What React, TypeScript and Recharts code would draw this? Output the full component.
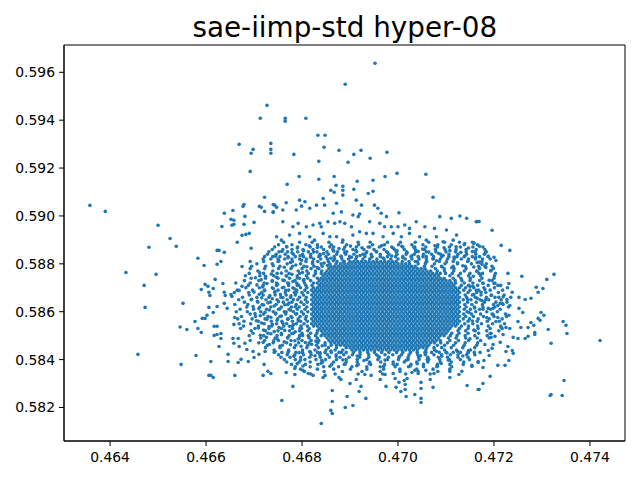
import React from 'react';
import { ScatterChart, Scatter, XAxis, YAxis, ReferenceArea } from 'recharts';

const title = 'sae-iimp-std hyper-08';
const xTicks = [0.464, 0.466, 0.468, 0.47, 0.472, 0.474];
const yTicks = [0.582, 0.584, 0.586, 0.588, 0.59, 0.592, 0.594, 0.596];
const xDomain: [number, number] = [0.46304, 0.47473];
const yDomain: [number, number] = [0.5806, 0.59714];

// points read one by one from the sparse outskirts
const topPoints: [number, number][] = [
  [0.46952, 0.59638], [0.4689, 0.5955], [0.46727, 0.59462], [0.46713, 0.59408], [0.46765, 0.59408], [0.46765, 0.59396],
  [0.46808, 0.59408], [0.46833, 0.59337], [0.46848, 0.59337], [0.46669, 0.59299], [0.46735, 0.59303], [0.46698, 0.59278],
  [0.46694, 0.59262], [0.46735, 0.59278], [0.46735, 0.59262], [0.46846, 0.59287], [0.46877, 0.59274], [0.46908, 0.59257],
  [0.46923, 0.59274], [0.46977, 0.59266], [0.46783, 0.59257], [0.46835, 0.59228], [0.46896, 0.59224], [0.46942, 0.59241],
  [0.46692, 0.59186], [0.46794, 0.59165], [0.46769, 0.59132], [0.46835, 0.59153], [0.46867, 0.59165], [0.46871, 0.59128],
  [0.46885, 0.59124], [0.46885, 0.59107], [0.4686, 0.59107], [0.46867, 0.59099], [0.46915, 0.59145], [0.46908, 0.59111],
  [0.46948, 0.59149], [0.46973, 0.59165], [0.46998, 0.59178], [0.47058, 0.59174], [0.46938, 0.59094], [0.46948, 0.59103],
];

const upperPoints: [number, number][] = [
  [0.46885, 0.59087], [0.47073, 0.59078], [0.46743, 0.59045], [0.4674, 0.59017], [0.4676, 0.59025], [0.46767, 0.59055],
  [0.46795, 0.59066], [0.46806, 0.59059], [0.46788, 0.59025], [0.46799, 0.59041], [0.46816, 0.59032], [0.4683, 0.59045],
  [0.46844, 0.59073], [0.46847, 0.59045], [0.46872, 0.59053], [0.46882, 0.59017], [0.46865, 0.59011], [0.46913, 0.59066],
  [0.46924, 0.59045], [0.46906, 0.59004], [0.46917, 0.58997], [0.4692, 0.59008], [0.46951, 0.59045], [0.46958, 0.59032],
  [0.46965, 0.59011], [0.46976, 0.58997], [0.47002, 0.59013], [0.47087, 0.58997], [0.47111, 0.5899], [0.47129, 0.59],
  [0.47143, 0.5899], [0.47163, 0.58976],
  [0.4676, 0.58976], [0.46781, 0.58955], [0.46792, 0.58969], [0.46809, 0.58955], [0.46823, 0.58962], [0.46837, 0.58969],
  [0.4684, 0.58955], [0.46854, 0.58976], [0.46868, 0.58969], [0.46879, 0.58976], [0.46889, 0.58969], [0.46903, 0.58955],
  [0.46941, 0.58976], [0.46962, 0.58969], [0.46972, 0.58955], [0.46986, 0.58955], [0.47, 0.58955], [0.47014, 0.58962],
  [0.47024, 0.58948], [0.47038, 0.58976], [0.47056, 0.58955], [0.47076, 0.58948], [0.47101, 0.58941], [0.47122, 0.5892],
  [0.46747, 0.58913], [0.46757, 0.58899], [0.46774, 0.5892], [0.46795, 0.58927], [0.46816, 0.58913], [0.46826, 0.58899],
  [0.46844, 0.58927], [0.46858, 0.58913], [0.46872, 0.58913], [0.46885, 0.58899], [0.46906, 0.5892], [0.4692, 0.58934],
  [0.46934, 0.58927], [0.46948, 0.58927], [0.46969, 0.58913], [0.4699, 0.58927], [0.47007, 0.58913], [0.47024, 0.58927],
  [0.47045, 0.58913], [0.47059, 0.58899], [0.4708, 0.58913], [0.47094, 0.58892], [0.47115, 0.58899], [0.47139, 0.58885],
  [0.47158, 0.58888],
];

const leftPoints: [number, number][] = [
  [0.46358, 0.59044], [0.4639, 0.59019], [0.46433, 0.58764], [0.465, 0.58961], [0.46525, 0.58906], [0.46538, 0.58873],
  [0.46481, 0.58869], [0.46496, 0.58756], [0.46471, 0.5871], [0.46473, 0.58618], [0.46458, 0.58422], [0.46552, 0.58635],
  [0.46546, 0.58536], [0.4656, 0.58526], [0.46548, 0.5838], [0.46579, 0.58417], [0.46583, 0.58823], [0.46596, 0.58793],
  [0.46623, 0.58856], [0.46627, 0.58856], [0.46638, 0.58848], [0.46631, 0.5881], [0.46623, 0.58798], [0.46638, 0.59011],
  [0.46633, 0.58956], [0.46656, 0.59023], [0.46652, 0.58986], [0.46658, 0.58982], [0.46654, 0.58961], [0.46658, 0.58965],
  [0.46679, 0.59048], [0.46677, 0.5904], [0.46681, 0.58998], [0.46679, 0.58965], [0.467, 0.58973], [0.46675, 0.58919],
  [0.46683, 0.58923], [0.4669, 0.58927], [0.46665, 0.5889], [0.46711, 0.5904], [0.46715, 0.59036], [0.46722, 0.59078],
  [0.46722, 0.59019], [0.4674, 0.59048], [0.46747, 0.59036], [0.4674, 0.59015], [0.46694, 0.58865], [0.46675, 0.58789],
  [0.46619, 0.58735], [0.46635, 0.58718], [0.46598, 0.58714], [0.46604, 0.58706], [0.4659, 0.58693], [0.46615, 0.58697],
  [0.46606, 0.58681], [0.46608, 0.58668], [0.46638, 0.58681], [0.4664, 0.58668], [0.46652, 0.58672], [0.46654, 0.58664],
  [0.46669, 0.58689], [0.46675, 0.58706], [0.46606, 0.58618], [0.46623, 0.58622], [0.46638, 0.58635], [0.46644, 0.58614],
  [0.46615, 0.58597], [0.46602, 0.58585], [0.46598, 0.58572], [0.46592, 0.58572], [0.46577, 0.58559], [0.46583, 0.5853],
  [0.4659, 0.58513], [0.46617, 0.58539], [0.46623, 0.58539], [0.46617, 0.58501], [0.46623, 0.58505], [0.46631, 0.58509],
  [0.46631, 0.58488], [0.46627, 0.58455], [0.4661, 0.58392], [0.46606, 0.58334], [0.4661, 0.58334], [0.46615, 0.58325],
  [0.46646, 0.58422], [0.46646, 0.58392], [0.4666, 0.58334], [0.46667, 0.58388], [0.46673, 0.58401], [0.46688, 0.58392],
  [0.4666, 0.58576], [0.46658, 0.58547], [0.46656, 0.58488], [0.46667, 0.58488], [0.46658, 0.58468], [0.46669, 0.58455],
  [0.46681, 0.58468], [0.46685, 0.58442], [0.46698, 0.58434], [0.467, 0.58409], [0.4671, 0.58422], [0.46721, 0.5838],
  [0.46719, 0.58334], [0.46729, 0.58351], [0.46735, 0.58342], [0.46723, 0.58434], [0.46744, 0.58434],
];

const rightPoints: [number, number][] = [
  [0.47165, 0.58977], [0.47169, 0.58977], [0.47196, 0.5894], [0.47158, 0.58885], [0.47215, 0.58877], [0.47233, 0.58856],
  [0.472, 0.58827], [0.47204, 0.58814], [0.47165, 0.58806], [0.47175, 0.58798], [0.47183, 0.58785], [0.47194, 0.58773],
  [0.47165, 0.58768], [0.47169, 0.5876], [0.47229, 0.5876], [0.47258, 0.58748], [0.47325, 0.58756], [0.4731, 0.58735],
  [0.47231, 0.58718], [0.4719, 0.58731], [0.472, 0.58718], [0.47208, 0.5871], [0.47177, 0.58718], [0.47156, 0.58706],
  [0.47288, 0.58702], [0.47302, 0.58697], [0.47292, 0.58681], [0.47238, 0.58681], [0.47252, 0.5866], [0.47265, 0.58651],
  [0.47277, 0.58656], [0.47219, 0.58662], [0.47227, 0.58651], [0.47217, 0.58635], [0.47233, 0.58626], [0.47252, 0.58614],
  [0.4726, 0.58597], [0.47298, 0.58597], [0.47304, 0.58585], [0.47292, 0.58572], [0.47296, 0.58564], [0.47277, 0.58555],
  [0.47283, 0.58543], [0.47344, 0.58559], [0.4735, 0.58543], [0.4725, 0.58559], [0.47231, 0.58585], [0.47256, 0.58534],
  [0.47271, 0.58534], [0.47313, 0.58526], [0.47352, 0.58509], [0.47285, 0.58513], [0.47285, 0.58505], [0.4724, 0.58493],
  [0.4725, 0.58488], [0.47265, 0.58488], [0.47271, 0.58497], [0.47421, 0.5848], [0.47319, 0.58468], [0.47229, 0.58455],
  [0.47238, 0.58438], [0.4724, 0.58426], [0.47225, 0.58434], [0.47231, 0.58396], [0.47208, 0.58376], [0.47223, 0.58376],
  [0.47192, 0.5833], [0.47177, 0.583], [0.47169, 0.58275], [0.47346, 0.58313], [0.47317, 0.5825], [0.47319, 0.58254],
  [0.47342, 0.5825], [0.47177, 0.58367], [0.47167, 0.58388], [0.47154, 0.58376], [0.47179, 0.58396], [0.4719, 0.58417],
  [0.47188, 0.58438], [0.47196, 0.58447], [0.47171, 0.5843], [0.47181, 0.58463], [0.47198, 0.58463], [0.47213, 0.58472],
  [0.47219, 0.58505], [0.47217, 0.5853], [0.47202, 0.58497], [0.47194, 0.58493], [0.47192, 0.58509], [0.47225, 0.58534],
  [0.47233, 0.5853], [0.47204, 0.58559], [0.47215, 0.58534], [0.47185, 0.58576], [0.47198, 0.58589], [0.47208, 0.58576],
  [0.47177, 0.5861], [0.47188, 0.58614], [0.47198, 0.58614], [0.47208, 0.58626], [0.47213, 0.58635], [0.47165, 0.58656],
  [0.47175, 0.58647], [0.47183, 0.58651], [0.47194, 0.58668], [0.47202, 0.5866], [0.47163, 0.58689], [0.47173, 0.58681],
  [0.47181, 0.58693],
];

const bottomPoints: [number, number][] = [
  [0.46758, 0.58229], [0.46781, 0.58288], [0.46767, 0.58346], [0.46785, 0.58363], [0.46785, 0.58338], [0.46802, 0.58355],
  [0.46813, 0.58342], [0.46823, 0.58334], [0.4684, 0.58133], [0.46844, 0.58325], [0.46848, 0.58334], [0.46863, 0.58271],
  [0.46863, 0.58225], [0.4686, 0.58188], [0.46863, 0.58175], [0.46877, 0.58325], [0.46881, 0.58317], [0.46894, 0.58246],
  [0.4689, 0.582], [0.46906, 0.58208], [0.469, 0.583], [0.46919, 0.58267], [0.46923, 0.58288], [0.46933, 0.58238],
  [0.46913, 0.58317], [0.46931, 0.58338], [0.46944, 0.58334], [0.46963, 0.58317], [0.46975, 0.58288], [0.46973, 0.58338],
  [0.4699, 0.58342], [0.46994, 0.58321], [0.46996, 0.58284], [0.47006, 0.58267], [0.47015, 0.58275], [0.47015, 0.58296],
  [0.47017, 0.58246], [0.47002, 0.58305], [0.47013, 0.58313], [0.47019, 0.58321], [0.47035, 0.58254], [0.47048, 0.58305],
  [0.47048, 0.58279], [0.47048, 0.58238], [0.47048, 0.58221], [0.47029, 0.58346], [0.47042, 0.58342], [0.47035, 0.58355],
  [0.47067, 0.58317], [0.47073, 0.58284], [0.47058, 0.58355], [0.47075, 0.58342], [0.47108, 0.58325], [0.47108, 0.58351],
  [0.47127, 0.58338], [0.47133, 0.58351], [0.47144, 0.58292], [0.47167, 0.58275], [0.47154, 0.58371], [0.47167, 0.58392],
];

// estimated points in the busy band that rings the solid core
const ringPoints: [number, number][] = [
  [0.46768, 0.58872], [0.4679, 0.58866], [0.46815, 0.58875], [0.46832, 0.58868], [0.46858, 0.58871], [0.46877, 0.58864],
  [0.46901, 0.58874], [0.46925, 0.58867], [0.46941, 0.5887], [0.46966, 0.58876], [0.4699, 0.58865], [0.47008, 0.58873],
  [0.47033, 0.58869], [0.47051, 0.58862], [0.47077, 0.58875], [0.47096, 0.58867], [0.47121, 0.58871], [0.47147, 0.58866],
  [0.4717, 0.58873],
  [0.46758, 0.58852], [0.46779, 0.58846], [0.46803, 0.58855], [0.46824, 0.58849], [0.46845, 0.58843], [0.46866, 0.58853],
  [0.46889, 0.58847], [0.46912, 0.58856], [0.46933, 0.58844], [0.46955, 0.58851], [0.46978, 0.58848], [0.46998, 0.58854],
  [0.47019, 0.58845], [0.47042, 0.58852], [0.47064, 0.58849], [0.47085, 0.58843], [0.47108, 0.58855], [0.47131, 0.58848],
  [0.47155, 0.58851], [0.47182, 0.58846],
  [0.46745, 0.58832], [0.46771, 0.58825], [0.46796, 0.58834], [0.46818, 0.58828], [0.46838, 0.58836], [0.4686, 0.58823],
  [0.46881, 0.58831], [0.46903, 0.58827], [0.46921, 0.58835], [0.46945, 0.58829], [0.46969, 0.58824], [0.46987, 0.58833],
  [0.4701, 0.58826], [0.47029, 0.58834], [0.47052, 0.5883], [0.47073, 0.58822], [0.47094, 0.58835], [0.47117, 0.58828],
  [0.47139, 0.58832], [0.47162, 0.58826], [0.47188, 0.58831],
  [0.46752, 0.58812], [0.46776, 0.58806], [0.46799, 0.58815], [0.46822, 0.58808], [0.46846, 0.58803], [0.46865, 0.58813],
  [0.46886, 0.58809], [0.47036, 0.5881], [0.47058, 0.58806], [0.4708, 0.58813], [0.47101, 0.58808], [0.47124, 0.58804],
  [0.47146, 0.58812], [0.4717, 0.58807],
  [0.4674, 0.58792], [0.46763, 0.58786], [0.46787, 0.58795], [0.4681, 0.58788], [0.46832, 0.58784], [0.46853, 0.58793],
  [0.47091, 0.58788], [0.47112, 0.58784], [0.47135, 0.58792], [0.47158, 0.58787], [0.47181, 0.5879],
  [0.46712, 0.58763], [0.46736, 0.58757], [0.46757, 0.58761], [0.46779, 0.58756], [0.46801, 0.58764],
  [0.46703, 0.58742], [0.46724, 0.58748], [0.46747, 0.58744], [0.46768, 0.58749], [0.4679, 0.58741],
  [0.46715, 0.58733], [0.46738, 0.58727], [0.4676, 0.58732], [0.46781, 0.58726], [0.46804, 0.58734],
  [0.46706, 0.58712], [0.46727, 0.58718], [0.46749, 0.58714], [0.46772, 0.58719], [0.46793, 0.58711],
  [0.46718, 0.58703], [0.4674, 0.58697], [0.46762, 0.58702], [0.46784, 0.58696],
  [0.467, 0.58682], [0.46722, 0.58688], [0.46744, 0.58684], [0.46766, 0.58689], [0.46788, 0.58681],
  [0.46711, 0.58673], [0.46733, 0.58667], [0.46755, 0.58672], [0.46777, 0.58666],
  [0.46695, 0.58652], [0.46716, 0.58658], [0.46738, 0.58654], [0.4676, 0.58659], [0.46782, 0.58651],
  [0.46707, 0.58643], [0.46729, 0.58637], [0.46751, 0.58642], [0.46773, 0.58636],
  [0.46698, 0.58622], [0.4672, 0.58628], [0.46742, 0.58624], [0.46764, 0.58629], [0.46786, 0.58621],
  [0.4671, 0.58613], [0.46732, 0.58607], [0.46754, 0.58612], [0.46776, 0.58606],
  [0.46702, 0.58592], [0.46723, 0.58598], [0.46745, 0.58594], [0.46767, 0.58599], [0.46789, 0.58591],
  [0.46713, 0.58583], [0.46735, 0.58577], [0.46757, 0.58582], [0.46779, 0.58576],
  [0.46705, 0.58562], [0.46727, 0.58568], [0.46748, 0.58564], [0.4677, 0.58569], [0.46792, 0.58561],
  [0.46716, 0.58553], [0.46738, 0.58547], [0.4676, 0.58552], [0.46782, 0.58546],
  [0.46709, 0.58532], [0.46731, 0.58538], [0.46752, 0.58534], [0.46774, 0.58539], [0.46796, 0.58531],
  [0.4672, 0.58523], [0.46742, 0.58517], [0.46764, 0.58522], [0.46786, 0.58516],
  [0.46713, 0.58502], [0.46735, 0.58508], [0.46757, 0.58504], [0.46779, 0.58509], [0.46801, 0.58501],
  [0.46726, 0.58493], [0.46748, 0.58487], [0.4677, 0.58492], [0.46792, 0.58486], [0.46814, 0.58494],
  [0.46719, 0.58472], [0.46741, 0.58478], [0.46763, 0.58474], [0.46785, 0.58479], [0.46807, 0.58471], [0.46829, 0.58477],
  [0.46732, 0.58463], [0.46754, 0.58457], [0.46776, 0.58462], [0.46798, 0.58456], [0.4682, 0.58464], [0.46842, 0.58458],
  [0.47157, 0.58748], [0.4715, 0.58706], [0.47158, 0.58672], [0.47145, 0.58651], [0.4716, 0.58616], [0.47148, 0.58597],
  [0.47155, 0.58561], [0.47158, 0.58523], [0.4715, 0.58487], [0.47147, 0.58438],
  [0.46772, 0.58435], [0.46794, 0.58429], [0.46816, 0.58434], [0.46838, 0.58428], [0.4686, 0.58436], [0.46882, 0.5843],
  [0.47058, 0.58431], [0.4708, 0.58435], [0.47102, 0.58428], [0.47124, 0.58434], [0.47146, 0.58429],
  [0.46783, 0.58414], [0.46827, 0.58416], [0.46871, 0.58413], [0.46915, 0.58415], [0.46959, 0.58414], [0.47003, 0.58413],
  [0.47047, 0.58416], [0.47091, 0.58414], [0.47135, 0.58415],
  [0.46797, 0.58398], [0.46841, 0.58397], [0.46885, 0.58399], [0.46929, 0.58396], [0.46973, 0.58398], [0.47017, 0.58397],
  [0.47061, 0.584], [0.47105, 0.58397],
  [0.4679, 0.58383], [0.4684, 0.58385], [0.4689, 0.58382], [0.4694, 0.58384], [0.4699, 0.58381], [0.4704, 0.58383],
  [0.4709, 0.58384],
  [0.46802, 0.58373], [0.46858, 0.58372], [0.46914, 0.58374], [0.4697, 0.58371], [0.47026, 0.58373], [0.47082, 0.58372],
];

// busy band estimated row by row: across the top, the two flanks of the core, then across the bottom
const ringRowY = [
  0.5889, 0.5888, 0.5887, 0.5886, 0.5885, 0.5884, 0.5883, 0.5882,
  0.5881, 0.588, 0.5879, 0.5878, 0.5877, 0.5876, 0.5875, 0.5874, 0.5873, 0.5872, 0.5871, 0.587, 0.5869, 0.5868, 0.5867,
  0.5866, 0.5865, 0.5864, 0.5863, 0.5862, 0.5861, 0.586, 0.5859, 0.5858, 0.5857, 0.5856, 0.5855, 0.5854, 0.5853, 0.5852,
  0.5851, 0.585, 0.5849, 0.5848, 0.5847, 0.5846, 0.5845, 0.5844,
  0.5843, 0.5842, 0.5841, 0.584, 0.5839, 0.5838, 0.5837, 0.5836, 0.5835, 0.5834,
];

const ringRowX: number[][] = [
  [0.46762, 0.46795, 0.46821, 0.46856, 0.46884, 0.46917, 0.46942, 0.46978, 0.47005, 0.47036, 0.47064, 0.47097, 0.47128, 0.47155],
  [0.46751, 0.46779, 0.46808, 0.46832, 0.46861, 0.46893, 0.46918, 0.46947, 0.46972, 0.47001, 0.47029, 0.47052, 0.47083, 0.47111, 0.47138, 0.47166],
  [0.46743, 0.46768, 0.46791, 0.46817, 0.4684, 0.46866, 0.46889, 0.46913, 0.46938, 0.46961, 0.46987, 0.4701, 0.47035, 0.47058, 0.47082, 0.47107, 0.4713, 0.47156, 0.47177],
  [0.46738, 0.4676, 0.46779, 0.46802, 0.46823, 0.46845, 0.46864, 0.46887, 0.46906, 0.46929, 0.4695, 0.46971, 0.46993, 0.47013, 0.47036, 0.47055, 0.47078, 0.47098, 0.47121, 0.47142, 0.47163, 0.47181],
  [0.46731, 0.46752, 0.4677, 0.46791, 0.46813, 0.46831, 0.46852, 0.46874, 0.46893, 0.46914, 0.46935, 0.46955, 0.46976, 0.46996, 0.47018, 0.47037, 0.47059, 0.47079, 0.471, 0.4712, 0.47142, 0.47161, 0.47184],
  [0.46728, 0.46746, 0.46765, 0.46782, 0.46801, 0.46818, 0.46837, 0.46855, 0.46872, 0.46891, 0.46908, 0.46927, 0.46944, 0.46963, 0.46981, 0.46998, 0.47017, 0.47034, 0.47053, 0.4707, 0.47089, 0.47106, 0.47125, 0.47143, 0.47162, 0.4718],
  [0.46722, 0.46739, 0.46754, 0.46771, 0.46786, 0.46803, 0.46818, 0.46835, 0.4685, 0.46867, 0.46882, 0.46899, 0.46914, 0.46931, 0.46946, 0.46963, 0.46978, 0.46995, 0.4701, 0.47027, 0.47042, 0.47059, 0.47074, 0.47091, 0.47106, 0.47123, 0.47138, 0.47155, 0.4717, 0.47188],
  [0.46719, 0.46735, 0.4675, 0.46764, 0.46779, 0.46795, 0.46809, 0.46824, 0.46839, 0.46853, 0.46868, 0.46883, 0.46897, 0.46912, 0.46927, 0.46941, 0.46956, 0.46971, 0.46985, 0.47, 0.47015, 0.47029, 0.47044, 0.47059, 0.47073, 0.47088, 0.47103, 0.47117, 0.47132, 0.47147, 0.47161, 0.47176, 0.47192],
  [0.46888, 0.46873, 0.46855, 0.46833, 0.46808, 0.4678, 0.4675, 0.4672, 0.46692, 0.47009, 0.47023, 0.4704, 0.4706, 0.47086, 0.47115, 0.47145, 0.47175],
  [0.46871, 0.46858, 0.4684, 0.46822, 0.46797, 0.46769, 0.46738, 0.46706, 0.47042, 0.47057, 0.47076, 0.47098, 0.47124, 0.47153, 0.47184],
  [0.46842, 0.46825, 0.46804, 0.4678, 0.46754, 0.46724, 0.46695, 0.47055, 0.47071, 0.47091, 0.47115, 0.4714, 0.47168, 0.47196],
  [0.46835, 0.46819, 0.468, 0.46777, 0.46751, 0.46722, 0.46692, 0.47078, 0.47096, 0.47117, 0.47142, 0.4717, 0.47199],
  [0.46841, 0.46828, 0.4681, 0.46792, 0.46767, 0.46739, 0.46708, 0.47082, 0.47097, 0.47116, 0.47138, 0.47164, 0.47193],
  [0.46828, 0.46813, 0.46795, 0.46773, 0.46748, 0.4672, 0.4669, 0.47099, 0.47113, 0.4713, 0.4715, 0.47176, 0.47203],
  [0.46825, 0.46809, 0.4679, 0.46767, 0.46741, 0.46712, 0.46682, 0.47108, 0.47126, 0.47147, 0.47172, 0.47201],
  [0.46812, 0.46795, 0.46774, 0.4675, 0.46724, 0.46694, 0.47115, 0.47131, 0.47151, 0.47175, 0.472],
  [0.46818, 0.46803, 0.46785, 0.46763, 0.46738, 0.4671, 0.4668, 0.47119, 0.47133, 0.4715, 0.4717, 0.47196],
  [0.46805, 0.46789, 0.4677, 0.46747, 0.46721, 0.46692, 0.46662, 0.47138, 0.47156, 0.47177, 0.47202],
  [0.46821, 0.46808, 0.4679, 0.46772, 0.46747, 0.46719, 0.46688, 0.47132, 0.47147, 0.47166, 0.47188, 0.47214],
  [0.4681, 0.46797, 0.46781, 0.46759, 0.46738, 0.46711, 0.46683, 0.47141, 0.47158, 0.47179, 0.47201, 0.47228],
  [0.46806, 0.46789, 0.46772, 0.4675, 0.46722, 0.46697, 0.46665, 0.47137, 0.4715, 0.47168, 0.47192, 0.47218],
  [0.46812, 0.468, 0.46784, 0.46765, 0.46743, 0.46716, 0.46689, 0.46659, 0.47146, 0.47164, 0.47183, 0.47209],
  [0.46803, 0.46786, 0.46767, 0.46744, 0.46719, 0.4669, 0.4714, 0.47155, 0.47173, 0.47195, 0.47221],
  [0.46809, 0.46795, 0.46776, 0.46756, 0.46731, 0.46706, 0.46676, 0.47143, 0.47161, 0.47184, 0.4721, 0.47235],
  [0.46807, 0.46791, 0.46769, 0.46748, 0.46725, 0.46694, 0.46668, 0.47136, 0.47152, 0.47171, 0.47189, 0.47215],
  [0.46811, 0.46798, 0.46779, 0.46761, 0.46734, 0.46708, 0.4668, 0.47145, 0.47163, 0.4718, 0.47204, 0.47227],
  [0.46804, 0.46788, 0.4677, 0.46746, 0.46717, 0.46687, 0.4666, 0.47139, 0.47154, 0.47176, 0.47199, 0.47219],
  [0.4681, 0.46794, 0.46778, 0.46757, 0.46735, 0.46712, 0.46685, 0.47142, 0.47159, 0.47177, 0.47202, 0.4723],
  [0.46806, 0.4679, 0.46773, 0.46751, 0.46726, 0.46699, 0.46671, 0.47138, 0.47151, 0.4717, 0.47193, 0.47213],
  [0.46812, 0.46799, 0.46782, 0.46763, 0.4674, 0.46714, 0.46686, 0.46663, 0.47144, 0.47162, 0.47185, 0.47207],
  [0.46803, 0.46787, 0.46766, 0.46745, 0.4672, 0.46692, 0.47137, 0.47153, 0.47172, 0.47196, 0.47224],
  [0.46809, 0.46796, 0.46777, 0.46754, 0.46729, 0.46703, 0.46674, 0.47141, 0.47157, 0.47178, 0.472, 0.47226],
  [0.46807, 0.46792, 0.46771, 0.46749, 0.46723, 0.46696, 0.46666, 0.47136, 0.47149, 0.47167, 0.4719, 0.47217],
  [0.46811, 0.46797, 0.4678, 0.46758, 0.46736, 0.46709, 0.46679, 0.47146, 0.47165, 0.47186, 0.47211],
  [0.46804, 0.46788, 0.46768, 0.46747, 0.46721, 0.46693, 0.46669, 0.47139, 0.47156, 0.47174, 0.47197, 0.47222],
  [0.46811, 0.46798, 0.4678, 0.46762, 0.46737, 0.46709, 0.46678, 0.47132, 0.47147, 0.47166, 0.47188, 0.47214],
  [0.46815, 0.46799, 0.4678, 0.46757, 0.46731, 0.46702, 0.46672, 0.47128, 0.47146, 0.47167, 0.47192],
  [0.46812, 0.46795, 0.46774, 0.4675, 0.46724, 0.46694, 0.47125, 0.47141, 0.47161, 0.47185, 0.4721],
  [0.46831, 0.46818, 0.468, 0.46782, 0.46757, 0.46729, 0.46698, 0.47112, 0.47127, 0.47146, 0.47168, 0.47194],
  [0.46828, 0.46813, 0.46795, 0.46773, 0.46748, 0.4672, 0.4669, 0.47109, 0.47123, 0.4714, 0.4716, 0.47186],
  [0.46832, 0.46815, 0.46794, 0.4677, 0.46744, 0.46714, 0.47105, 0.47121, 0.47141, 0.47165, 0.4719],
  [0.46835, 0.46819, 0.468, 0.46777, 0.46751, 0.46722, 0.46692, 0.47108, 0.47126, 0.47147, 0.47172],
  [0.46848, 0.46833, 0.46815, 0.46793, 0.46768, 0.4674, 0.4671, 0.47089, 0.47103, 0.4712, 0.4714, 0.47166],
  [0.46861, 0.46848, 0.4683, 0.46812, 0.46787, 0.46759, 0.46728, 0.47082, 0.47097, 0.47116, 0.47138, 0.47164],
  [0.46872, 0.46855, 0.46834, 0.4681, 0.46784, 0.46754, 0.46724, 0.47075, 0.47091, 0.47111, 0.47135, 0.4716],
  [0.46885, 0.46869, 0.4685, 0.46827, 0.46801, 0.46772, 0.46742, 0.47058, 0.47076, 0.47097, 0.47122, 0.47151],
  [0.46742, 0.46758, 0.46771, 0.46787, 0.46801, 0.46818, 0.46832, 0.46848, 0.46861, 0.46877, 0.46892, 0.46907, 0.46921, 0.46937, 0.46951, 0.46966, 0.46981, 0.46997, 0.4701, 0.47026, 0.4704, 0.47056, 0.4707, 0.47086, 0.471, 0.47115, 0.4713, 0.47146, 0.47159],
  [0.46751, 0.46769, 0.46785, 0.46803, 0.46819, 0.46837, 0.46853, 0.46871, 0.46887, 0.46905, 0.46921, 0.46939, 0.46955, 0.46973, 0.46989, 0.47007, 0.47023, 0.47041, 0.47057, 0.47075, 0.47091, 0.47109, 0.47125, 0.47143, 0.4716],
  [0.46756, 0.46775, 0.46797, 0.46816, 0.46838, 0.46857, 0.46879, 0.46898, 0.4692, 0.46939, 0.46961, 0.4698, 0.47002, 0.47021, 0.47043, 0.47062, 0.47084, 0.47103, 0.47125, 0.47146],
  [0.46763, 0.46786, 0.46806, 0.46829, 0.46849, 0.46872, 0.46892, 0.46915, 0.46935, 0.46958, 0.46978, 0.47001, 0.47021, 0.47044, 0.47064, 0.47087, 0.47107, 0.4713, 0.47149],
  [0.46768, 0.46794, 0.46817, 0.46843, 0.46866, 0.46892, 0.46915, 0.46941, 0.46964, 0.4699, 0.47013, 0.47039, 0.47062, 0.47088, 0.47111, 0.47137],
  [0.46778, 0.46807, 0.46833, 0.46862, 0.46888, 0.46917, 0.46943, 0.46972, 0.46998, 0.47027, 0.47053, 0.47082, 0.47108, 0.47136],
  [0.46786, 0.46817, 0.46845, 0.46876, 0.46904, 0.46935, 0.46963, 0.46994, 0.47022, 0.47053, 0.47081, 0.47112],
  [0.46797, 0.46832, 0.46866, 0.46901, 0.46935, 0.4697, 0.47004, 0.47039, 0.47073, 0.47108],
  [0.46805, 0.46846, 0.46884, 0.46925, 0.46963, 0.47004, 0.47042, 0.47083],
  [0.46818, 0.46869, 0.46917, 0.46968, 0.47016, 0.47067],
];

// the solid core: estimated positions across the blob, and each row's left and right edge
const coreEvenX = [
  0.4682, 0.46828, 0.46836, 0.46844, 0.46852, 0.4686, 0.46868, 0.46876, 0.46884, 0.46892, 0.469, 0.46908, 0.46916,
  0.46924, 0.46932, 0.4694, 0.46948, 0.46956, 0.46964, 0.46972, 0.4698, 0.46988, 0.46996, 0.47004, 0.47012, 0.4702,
  0.47028, 0.47036, 0.47044, 0.47052, 0.4706, 0.47068, 0.47076, 0.47084, 0.47092, 0.471, 0.47108, 0.47116, 0.47124,
];
const coreOddX = [
  0.46824, 0.46832, 0.4684, 0.46848, 0.46856, 0.46864, 0.46872, 0.4688, 0.46888, 0.46896, 0.46904, 0.46912, 0.4692,
  0.46928, 0.46936, 0.46944, 0.46952, 0.4696, 0.46968, 0.46976, 0.46984, 0.46992, 0.47, 0.47008, 0.47016, 0.47024,
  0.47032, 0.4704, 0.47048, 0.47056, 0.47064, 0.47072, 0.4708, 0.47088, 0.47096, 0.47104, 0.47112, 0.4712, 0.47128,
];
const coreRowY = ringRowY.slice(8, 46);
const coreLo = [
  0.469, 0.4688, 0.4686, 0.4685, 0.4685, 0.4684, 0.4684, 0.4683, 0.4683, 0.4682, 0.4683,
  0.4682, 0.4682, 0.4682, 0.4682, 0.4682, 0.4682, 0.4682, 0.4682, 0.4682, 0.4682, 0.4682, 0.4682, 0.4682, 0.4682, 0.4682, 0.4682,
  0.4682, 0.4683, 0.4683, 0.4684, 0.4684, 0.4685, 0.4685, 0.4686, 0.4687, 0.4689, 0.469,
];
const coreHi = [
  0.47, 0.4703, 0.4704, 0.4706, 0.4707, 0.4709, 0.4709, 0.471, 0.4711, 0.4712, 0.4712,
  0.4713, 0.4713, 0.4713, 0.4713, 0.4713, 0.4713, 0.4713, 0.4713, 0.4713, 0.4713, 0.4713, 0.4713, 0.4713, 0.4713, 0.4713, 0.4713,
  0.4712, 0.4711, 0.4711, 0.471, 0.471, 0.4709, 0.4709, 0.4708, 0.4707, 0.4706, 0.4704,
];

const pairPoints = [...topPoints, ...upperPoints, ...leftPoints, ...rightPoints, ...bottomPoints, ...ringPoints].map(
  ([x, y]) => ({ x, y })
);
const ringRowPoints = ringRowX.flatMap((row, i) => row.map((x) => ({ x, y: ringRowY[i] })));
const corePoints = coreRowY.flatMap((y, i) =>
  (i % 2 === 0 ? coreEvenX : coreOddX)
    .filter((x) => x >= coreLo[i] - 1e-9 && x <= coreHi[i] + 1e-9)
    .map((x) => ({ x, y }))
);
const points = [...pairPoints, ...ringRowPoints, ...corePoints];

const tickStyle = { fill: '#000', fontSize: 13.9, fontFamily: 'DejaVu Sans' };

const Dot = (props: any) => <circle cx={props.cx} cy={props.cy} r={1.8} fill="#1f77b4" />;

export default function App() {
  return (
    <div style={{ position: 'absolute', left: 0, top: 0, width: 640, height: 480, background: '#fff' }}>
      <ScatterChart width={640} height={480} margin={{ top: 45, right: 15, bottom: 0, left: 0 }}>
        <XAxis
          xAxisId="b"
          type="number"
          dataKey="x"
          domain={xDomain}
          ticks={xTicks}
          allowDataOverflow
          tickFormatter={(v: number) => v.toFixed(3)}
          height={39}
          tickSize={5}
          tickMargin={6}
          tick={tickStyle}
          axisLine={{ stroke: '#000' }}
          tickLine={{ stroke: '#000' }}
        />
        <YAxis
          yAxisId="l"
          type="number"
          dataKey="y"
          domain={yDomain}
          ticks={yTicks}
          allowDataOverflow
          tickFormatter={(v: number) => v.toFixed(3)}
          width={64}
          tickSize={5}
          tickMargin={4}
          tick={tickStyle}
          axisLine={{ stroke: '#000' }}
          tickLine={{ stroke: '#000' }}
        />
        <Scatter xAxisId="b" yAxisId="l" data={points} shape={Dot} isAnimationActive={false} />
        <ReferenceArea
          xAxisId="b"
          yAxisId="l"
          x1={xDomain[0]}
          x2={xDomain[1]}
          y1={yDomain[0]}
          y2={yDomain[1]}
          fill="none"
          fillOpacity={0}
          stroke="#000"
          strokeWidth={1}
          ifOverflow="visible"
        />
      </ScatterChart>
      <svg width={640} height={480} style={{ position: 'absolute', left: 0, top: 0, pointerEvents: 'none' }}>
        <text x={344.8} y={36.7} textAnchor="middle" fontFamily="DejaVu Sans" fontSize={27.8} fill="#000">
          {title}
        </text>
      </svg>
    </div>
  );
}
